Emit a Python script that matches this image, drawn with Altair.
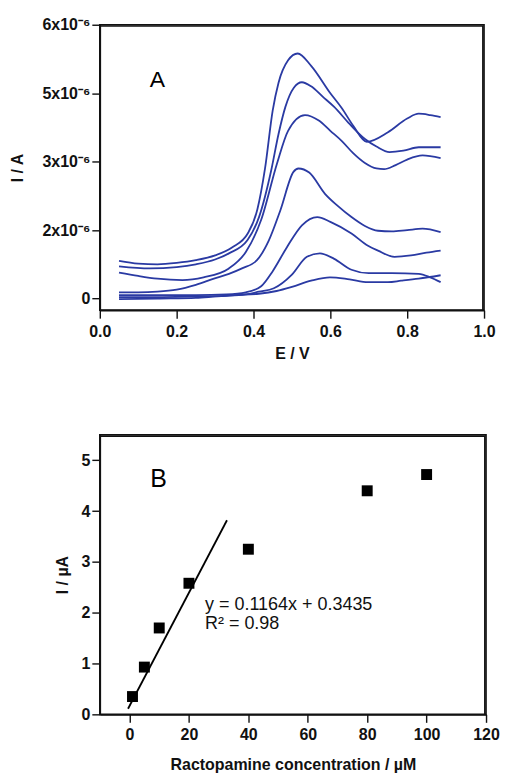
import altair as alt
import pandas as pd

# ---------------- Panel A : voltammograms (E / V vs I, tick units of 1e-6 A) ----------------
c1_E = [0.05, 0.10, 0.15, 0.20, 0.25, 0.30, 0.345, 0.385, 0.41, 0.43, 0.45, 0.465, 0.49, 0.515, 0.55, 0.60, 0.63, 0.66, 0.695, 0.75, 0.80, 0.83, 0.86, 0.887]
c1_I = [0.55, 0.51, 0.50, 0.52, 0.56, 0.63, 0.75, 0.95, 1.30, 1.90, 2.75, 3.15, 3.48, 3.58, 3.40, 3.00, 2.78, 2.52, 2.29, 2.43, 2.63, 2.70, 2.68, 2.65]

c2_E = [0.05, 0.13, 0.20, 0.25, 0.30, 0.336, 0.384, 0.415, 0.446, 0.465, 0.483, 0.505, 0.526, 0.55, 0.58, 0.61, 0.65, 0.69, 0.72, 0.754, 0.79, 0.83, 0.887]
c2_I = [0.47, 0.44, 0.46, 0.50, 0.57, 0.66, 0.85, 1.20, 1.87, 2.40, 2.80, 3.08, 3.16, 3.10, 2.95, 2.80, 2.55, 2.33, 2.22, 2.14, 2.16, 2.21, 2.21]

c3_E = [0.05, 0.10, 0.15, 0.215, 0.27, 0.336, 0.38, 0.42, 0.461, 0.49, 0.534, 0.57, 0.60, 0.63, 0.66, 0.69, 0.72, 0.74, 0.77, 0.80, 0.84, 0.887]
c3_I = [0.38, 0.33, 0.29, 0.27, 0.31, 0.44, 0.68, 1.15, 1.97, 2.45, 2.68, 2.60, 2.45, 2.30, 2.12, 1.98, 1.90, 1.89, 1.95, 2.03, 2.09, 2.05]

c4_E = [0.05, 0.10, 0.15, 0.20, 0.25, 0.297, 0.336, 0.37, 0.409, 0.44, 0.47, 0.504, 0.517, 0.545, 0.586, 0.62, 0.655, 0.69, 0.724, 0.76, 0.80, 0.84, 0.887]
c4_I = [0.09, 0.09, 0.10, 0.13, 0.20, 0.29, 0.36, 0.44, 0.56, 0.85, 1.29, 1.85, 1.90, 1.84, 1.53, 1.35, 1.19, 1.06, 0.99, 0.98, 1.00, 1.02, 0.97]

c5_E = [0.05, 0.15, 0.25, 0.33, 0.38, 0.42, 0.45, 0.487, 0.526, 0.566, 0.60, 0.655, 0.698, 0.724, 0.767, 0.81, 0.85, 0.887]
c5_I = [0.05, 0.05, 0.05, 0.06, 0.09, 0.18, 0.40, 0.75, 1.07, 1.19, 1.12, 0.95, 0.77, 0.70, 0.61, 0.63, 0.67, 0.70]

c6_E = [0.05, 0.15, 0.25, 0.33, 0.38, 0.414, 0.453, 0.50, 0.539, 0.573, 0.61, 0.655, 0.70, 0.76, 0.83, 0.86, 0.887]
c6_I = [0.02, 0.02, 0.03, 0.04, 0.06, 0.10, 0.15, 0.35, 0.61, 0.66, 0.58, 0.42, 0.37, 0.37, 0.36, 0.31, 0.24]

c7_E = [0.05, 0.15, 0.25, 0.30, 0.35, 0.414, 0.46, 0.50, 0.55, 0.599, 0.65, 0.698, 0.75, 0.784, 0.83, 0.887]
c7_I = [-0.01, 0.00, 0.01, 0.03, 0.05, 0.07, 0.11, 0.17, 0.26, 0.31, 0.28, 0.24, 0.24, 0.26, 0.29, 0.34]

curves_E = [c1_E, c2_E, c3_E, c4_E, c5_E, c6_E, c7_E]
curves_I = [c1_I, c2_I, c3_I, c4_I, c5_I, c6_I, c7_I]

a_x_domain = [0.0, 1.0]
a_y_domain = [-0.17, 4.0]
a_x_ticks = [0.0, 0.1, 0.2, 0.3, 0.4, 0.5, 0.6, 0.7, 0.8, 0.9, 1.0]
a_y_ticks = [0, 0.5, 1, 1.5, 2, 2.5, 3, 3.5, 4]
a_y_labels = ["0", "2x10⁻⁶", "3x10⁻⁶", "5x10⁻⁶", "6x10⁻⁶"]

label_A = {"E": [0.15], "I": [3.19], "t": ["A"]}

# ---------------- Panel B : calibration ----------------
conc = [1, 5, 10, 20, 40, 80, 100]
current = [0.35, 0.93, 1.70, 2.58, 3.25, 4.40, 4.72]
fit_x = [-0.5, 32.8]
fit_y = [0.11, 3.82]
b_x_domain = [-10, 120]
b_y_domain = [0, 5.5]
b_x_ticks = [0, 10, 20, 30, 40, 50, 60, 70, 80, 90, 100, 110, 120]
b_y_ticks = [0, 0.5, 1, 1.5, 2, 2.5, 3, 3.5, 4, 4.5, 5]
eq_text = ["y = 0.1164x + 0.3435", "R² = 0.98"]
eq_x = [25.4, 25.4]
eq_y = [2.16, 1.77]
label_B = {"x": [9.8], "y": [4.63], "t": ["B"]}

FONT = "Liberation Sans"
BLUE = "#2a3aa3"
FRAME = "#111111"

rows = []
for k, (es, is_) in enumerate(zip(curves_E, curves_I)):
    for e, i in zip(es, is_):
        rows.append({"curve": k, "E": e, "I": i})
dfA = pd.DataFrame(rows)

def tick_size(test):
    return {"condition": {"test": test, "value": 8}, "value": 4}

ax_common = dict(
    domainColor=FRAME, domainWidth=1.6, tickColor=FRAME, tickWidth=1.4,
    labelFont=FONT, labelFontWeight="bold", labelFontSize=16, labelColor="#111",
    titleFont=FONT, titleFontWeight="bold", titleFontSize=16, titleColor="#111",
    grid=False, labelOverlap=False, labelFlush=False,
)

yA_label_expr = "datum.value % 1 == 0 ? " + str(a_y_labels) + "[datum.value] : ''"

WA, HA = 385, 286
WB, HB = 387, 280


def frame(xd, yd, dx, dy):
    # top and right border of the plot box as one polyline (corner points of the domain)
    fx = [xd[0], xd[1] - dx, xd[1] - dx]
    fy = [yd[1] - dy, yd[1] - dy, yd[0]]
    df = pd.DataFrame({"fx": fx, "fy": fy, "o": [0, 1, 2]})
    return alt.Chart(df).mark_line(color=FRAME, strokeWidth=1.6).encode(
        x="fx:Q", y="fy:Q", order="o:Q")


xA = alt.X("E:Q", scale=alt.Scale(domain=a_x_domain, nice=False, zero=False),
           axis=alt.Axis(title="E / V", values=a_x_ticks, format=".1f",
                         labelExpr="round(datum.value*10) % 2 == 0 ? datum.label : ''",
                         tickSize=tick_size("round(datum.value*10) % 2 == 0"),
                         labelPadding=5, titlePadding=6, **ax_common))
yA = alt.Y("I:Q", scale=alt.Scale(domain=a_y_domain, nice=False, zero=False),
           axis=alt.Axis(title="I / A", values=a_y_ticks, labelExpr=yA_label_expr,
                         tickSize=tick_size("datum.value % 1 == 0"),
                         labelPadding=2, titlePadding=17, **ax_common))

linesA = alt.Chart(dfA).mark_line(color=BLUE, strokeWidth=1.8, interpolate="monotone").encode(
    x=xA, y=yA, detail="curve:N")
textA = alt.Chart(pd.DataFrame(label_A)).mark_text(font=FONT, fontSize=23, color="#000").encode(
    x="E:Q", y="I:Q", text="t:N")
panelA = alt.layer(linesA, textA, frame(a_x_domain, a_y_domain, 0.003, 0.018)).properties(width=WA, height=HA)

# panel B
dfB = pd.DataFrame({"x": conc, "y": current})
dfFit = pd.DataFrame({"x": fit_x, "y": fit_y})
dfEq = pd.DataFrame({"x": eq_x, "y": eq_y, "t": eq_text})

xB = alt.X("x:Q", scale=alt.Scale(domain=b_x_domain, nice=False, zero=False),
           axis=alt.Axis(title="Ractopamine concentration / µM", values=b_x_ticks,
                         labelExpr="datum.value % 20 == 0 ? datum.label : ''",
                         tickSize=tick_size("datum.value % 20 == 0"),
                         labelPadding=4, titlePadding=14, **ax_common))
yB = alt.Y("y:Q", scale=alt.Scale(domain=b_y_domain, nice=False, zero=False),
           axis=alt.Axis(title="I / µA", values=b_y_ticks, format="d",
                         labelExpr="datum.value % 1 == 0 ? datum.label : ''",
                         tickSize=tick_size("datum.value % 1 == 0"),
                         labelPadding=2, titlePadding=10, **ax_common))

pts = alt.Chart(dfB).mark_square(color="#000", size=120, opacity=1).encode(x=xB, y=yB)
fit = alt.Chart(dfFit).mark_line(color="#000", strokeWidth=1.8).encode(x="x:Q", y="y:Q")
eq = alt.Chart(dfEq).mark_text(font=FONT, fontSize=18, align="left", color="#111").encode(
    x="x:Q", y="y:Q", text="t:N")
textB = alt.Chart(pd.DataFrame(label_B)).mark_text(font=FONT, fontSize=25, color="#000").encode(
    x="x:Q", y="y:Q", text="t:N")
panelB = alt.layer(pts, fit, eq, textB, frame(b_x_domain, b_y_domain, 0.4, 0.025)).properties(width=WB, height=HB)

chart = alt.vconcat(panelA, panelB, spacing=70).properties(
    padding={"left": 0, "top": 7, "right": 0, "bottom": 0},
    background="white",
).configure_view(stroke=FRAME, strokeWidth=1.6)

chart.save("out.html", embed_options={"renderer": "svg", "actions": False})
